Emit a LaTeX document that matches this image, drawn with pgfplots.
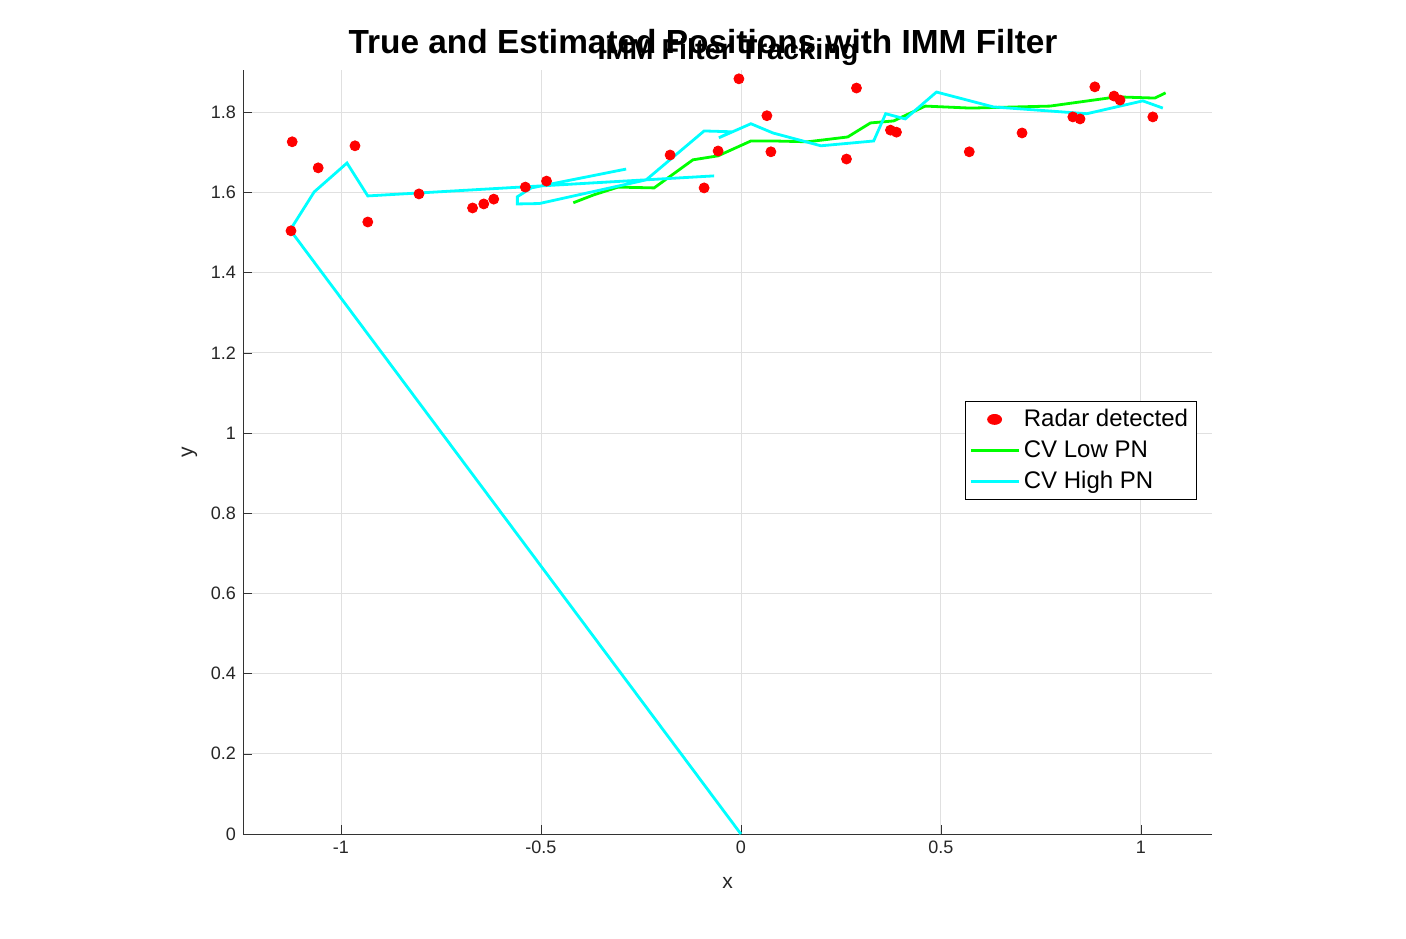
\documentclass[border=0pt]{standalone}
\usepackage{pgfplots}
\pgfplotsset{compat=1.18}
\usepackage{fontspec}
\setmainfont{Liberation Sans}
\begin{document}
\begin{tikzpicture}[x=0.5pt,y=0.5pt]
\path[fill=white] (0,0) rectangle (1406,938);
\node[font=\bfseries\fontsize{16.7}{19}\selectfont] at (703,896) {True and Estimated Positions with IMM Filter};
\node[font=\bfseries\fontsize{14.4}{16}\selectfont] at (728,886) {IMM Filter Tracking};
\begin{axis}[at={(243pt*0.5,104pt*0.5)},anchor=south west,
  scale only axis, width=484.5pt, height=382pt,
  xmin=-1.245, xmax=1.178, ymin=0, ymax=1.905,
  axis lines=left, axis line style={-,black!80},
  xtick={-1,-0.5,0,0.5,1}, ytick={0,0.2,...,1.8},
  yticklabel style={/pgf/number format/fixed,/pgf/number format/precision=1},
  /pgf/number format/assume math mode=true,
  tick align=inside, tick style={black!80},
  grid=major, grid style={black!12},
  ticklabel style={font=\fontsize{9}{11}\selectfont, black!85},
  xlabel={x}, ylabel={y},
  xlabel style={yshift=-5pt},
  label style={font=\fontsize{10.5}{12}\selectfont, black!85},
  legend style={at={(0.745,0.567)},anchor=north west,draw=black,
    font=\fontsize{12}{14}\selectfont, inner sep=2pt, row sep=1.5pt},
  legend image post style={xscale=1.4},
  legend cell align=left,
]
\addplot[only marks, mark=*, mark size=2.5pt, red, draw=red] coordinates {
(-1.125,1.504)(-1.122,1.726)(-1.057,1.661)(-0.965,1.716)(-0.933,1.526)(-0.805,1.596)
(-0.671,1.561)(-0.643,1.571)(-0.618,1.583)(-0.539,1.613)(-0.486,1.628)(-0.177,1.693)
(-0.092,1.611)(-0.057,1.703)(-0.005,1.883)(0.065,1.791)(0.075,1.701)(0.264,1.683)
(0.289,1.860)(0.374,1.755)(0.389,1.750)(0.506,1.908)(0.571,1.701)(0.703,1.748)
(0.830,1.788)(0.848,1.783)(0.885,1.863)(0.933,1.840)(0.948,1.830)(1.030,1.788)};
\addlegendentry{Radar detected}
\addplot[color={rgb,1:red,0;green,1;blue,0}, line width=1.4pt] coordinates {
(-0.419,1.574)(-0.367,1.594)(-0.307,1.613)(-0.217,1.611)(-0.120,1.681)(-0.057,1.691)
(0.025,1.728)(0.082,1.728)(0.167,1.726)(0.267,1.738)(0.324,1.773)(0.382,1.778)
(0.461,1.815)(0.574,1.810)(0.773,1.815)(0.940,1.838)(1.035,1.835)(1.062,1.848)};
\addlegendentry{CV Low PN}
\addplot[color={rgb,1:red,0;green,1;blue,1}, line width=1.4pt] coordinates {
(0,0)(-1.127,1.506)(-1.067,1.601)(-0.985,1.673)(-0.933,1.591)(-0.067,1.641)
(-0.499,1.616)(-0.287,1.658)(-0.524,1.611)(-0.559,1.589)(-0.559,1.571)(-0.504,1.572)
(-0.237,1.631)(-0.092,1.753)(-0.025,1.751)(-0.055,1.736)(0.025,1.771)(0.080,1.748)
(0.200,1.716)(0.332,1.728)(0.362,1.796)(0.411,1.783)(0.489,1.850)(0.631,1.813)
(0.865,1.796)(1.005,1.828)(1.055,1.810)};
\addlegendentry{CV High PN}
\end{axis}
\end{tikzpicture}
\end{document}
